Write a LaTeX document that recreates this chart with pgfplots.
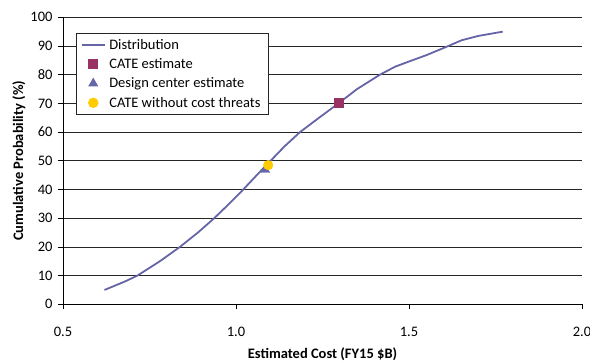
\documentclass[border=0pt]{standalone}
\usepackage{fontspec}
\setmainfont{Carlito}
\usepackage{pgfplots}
\pgfplotsset{compat=1.18}
\definecolor{distc}{HTML}{6464A6}
\definecolor{catec}{HTML}{993366}
\definecolor{desc}{HTML}{6666AA}
\definecolor{ctc}{HTML}{FFCC00}
\begin{document}
\begin{tikzpicture}[font=\fontsize{14.5}{17}\selectfont]
\begin{axis}[
  scale only axis,
  width=519pt, height=287pt,
  xmin=0.5, xmax=2.0, ymin=0, ymax=100,
  xtick={0.5,1.0,1.5,2.0},
  xticklabels={0.5,1.0,1.5,2.0},
  ytick={0,10,...,100},
  axis x line*=bottom, axis y line*=left,
  axis line style={black, line width=0.8pt, -},
  grid=major, xmajorgrids=false,
  major grid style={black!85, line width=0.8pt},
  major tick style={black, line width=0.8pt},
  tick align=outside, major tick length=5pt,
  /pgf/number format/assume math mode=true,
  ticklabel style={font=\fontsize{14.5}{17}\selectfont},
  xticklabel style={yshift=-14pt},
  yticklabel style={xshift=-2pt},
  xlabel={\bfseries Estimated Cost (FY15 \$B)},
  ylabel={\bfseries Cumulative Probability (\%)},
  xlabel style={at={(axis description cs:0.5,0)}, anchor=south, yshift=-60pt, font=\fontsize{14.5}{17}\selectfont},
  ylabel style={at={(axis description cs:0,0.5)}, anchor=center, rotate=0, yshift=44pt, font=\fontsize{14.5}{17}\selectfont},
  legend style={at={(axis cs:0.537,94.5)}, anchor=north west, draw=black!85, line width=0.8pt, fill=white,
    font=\fontsize{14.5}{17}\selectfont, row sep=3.8pt, inner xsep=4.5pt, inner ysep=3.5pt,
    nodes={inner xsep=3.5pt}},
  legend image code/.code={\draw[mark repeat=2,mark phase=2] plot coordinates {(0cm,0cm) (0.41cm,0cm) (0.82cm,0cm)};},
  legend cell align=left,
  clip=false,
]
\addplot[distc, line width=1.8pt, no markers] coordinates {
(0.62,5) (0.68,8) (0.715,10) (0.78,15) (0.838,20) (0.89,25) (0.937,30)
(0.98,35) (1.021,40) (1.06,45) (1.10,50) (1.14,55) (1.185,60) (1.24,65)
(1.296,70) (1.35,75) (1.416,80) (1.46,82.8) (1.50,84.6) (1.55,86.8)
(1.604,89.5) (1.652,92) (1.70,93.5) (1.771,95)
};
\addlegendentry{Distribution}
\addplot[only marks, mark=square*, mark size=4.5pt, catec, mark options={fill=catec, draw=catec}] coordinates {(1.296,70.1)};
\addlegendentry{CATE estimate}
\addplot[only marks, mark=triangle*, mark size=5pt, desc, mark options={fill=desc, draw=desc}] coordinates {(1.085,46.8)};
\addlegendentry{Design center estimate}
\addplot[only marks, mark=*, mark size=4.8pt, ctc, mark options={fill=ctc, draw=ctc}] coordinates {(1.093,48.5)};
\addlegendentry{CATE without cost threats}
\end{axis}
\pgfresetboundingbox
\path[use as bounding box] ([xshift=-63pt,yshift=-57.7pt]current axis.south west) rectangle ++(590pt,362pt);
\end{tikzpicture}
\end{document}
